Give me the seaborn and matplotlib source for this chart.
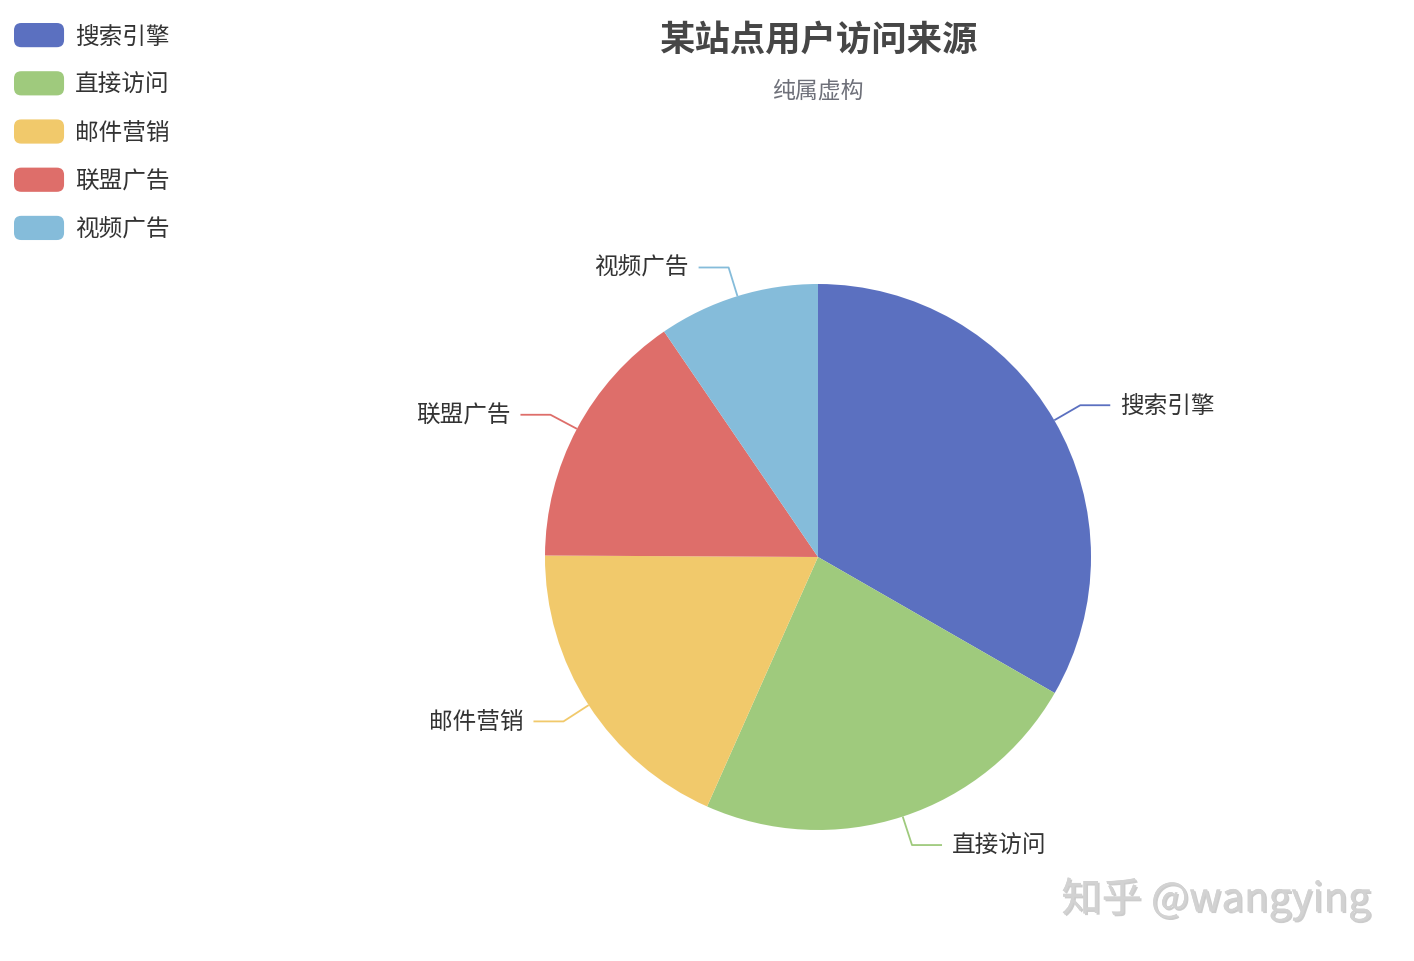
import numpy as np
import pandas as pd
import seaborn as sns
import matplotlib
matplotlib.use("Agg")
import matplotlib.pyplot as plt
from matplotlib.patches import Patch, FancyBboxPatch
from matplotlib.legend_handler import HandlerPatch
import matplotlib.patheffects as pe

# ---- data ----
categories = ["搜索引擎", "直接访问", "邮件营销", "联盟广告", "视频广告"]
values = [1048, 735, 580, 484, 300]
colors = ["#5b70c0", "#9fca7d", "#f1c96b", "#de6e6a", "#85bcda"]
title_text = "某站点用户访问来源"
subtitle_text = "纯属虚构"
watermark_text = "知乎 @wangying"

df = pd.DataFrame({"source": categories, "value": values})

sns.set_theme(style="white")
plt.rcParams["font.family"] = ["Noto Sans CJK SC", "DejaVu Sans"]

W, H = 1414, 962
fig = plt.figure(figsize=(W / 100, H / 100), dpi=100)
fig.patch.set_facecolor("white")
ax = fig.add_axes([0, 0, 1, 1])

cx, cy, R = 818, H - 558, 273
wedges, _ = ax.pie(df["value"], colors=colors, startangle=90, counterclock=False,
                   center=(cx, cy), radius=R, frame=True,
                   wedgeprops=dict(linewidth=0, edgecolor="none"))
ax.set_xlim(0, W)
ax.set_ylim(0, H)
ax.set_aspect("equal")
ax.axis("off")

L1, L2, gap = 30, 30, 10
for w, name, col in zip(wedges, df["source"], colors):
    mid = np.deg2rad((w.theta1 + w.theta2) / 2)
    c, s = np.cos(mid), np.sin(mid)
    x0, y0 = cx + R * c, cy + R * s
    x1, y1 = cx + (R + L1) * c, cy + (R + L1) * s
    sign = 1 if c >= 0 else -1
    x2 = x1 + sign * L2
    ax.plot([x0, x1, x2], [y0, y1, y1], color=col, lw=1.3, solid_capstyle="butt")
    ax.text(x2 + sign * gap, y1, name, ha="left" if sign > 0 else "right",
            va="center", fontsize=17, color="#333333")

# title
fig.text(818 / W, 1 - 40 / H, title_text, ha="center", va="center",
         fontsize=25.5, fontweight="bold", color="#464646")
fig.text(818 / W, 1 - 91 / H, subtitle_text, ha="center", va="center",
         fontsize=16.5, color="#6e7079")

# watermark
fig.text(1216 / W, 1 - 900 / H, watermark_text, ha="center", va="center",
         fontsize=29, color="#d2d2d2",
         path_effects=[pe.withSimplePatchShadow(offset=(1.2, -1.2),
                                                shadow_rgbFace="#9a9a9a",
                                                alpha=0.5),
                       pe.Normal()])


class RoundHandler(HandlerPatch):
    def create_artists(self, legend, orig_handle, xdescent, ydescent, width,
                       height, fontsize, trans):
        p = FancyBboxPatch((-xdescent, -ydescent), width, height,
                           boxstyle=f"round,pad=0,rounding_size={height * 0.3}",
                           facecolor=orig_handle.get_facecolor(),
                           edgecolor="none", transform=trans)
        return [p]


handles = [Patch(facecolor=c, label=n) for n, c in zip(categories, colors)]
fig.legend(handles=handles, loc="upper left",
           bbox_to_anchor=(14 / W, 1 - 24 / H), frameon=False,
           fontsize=17, handlelength=2.12, handleheight=1.2,
           handletextpad=0.47, labelspacing=0.98, borderpad=0,
           borderaxespad=0, labelcolor="#333333",
           handler_map={Patch: RoundHandler()})

fig.savefig("out.png", dpi=100, facecolor="white")
